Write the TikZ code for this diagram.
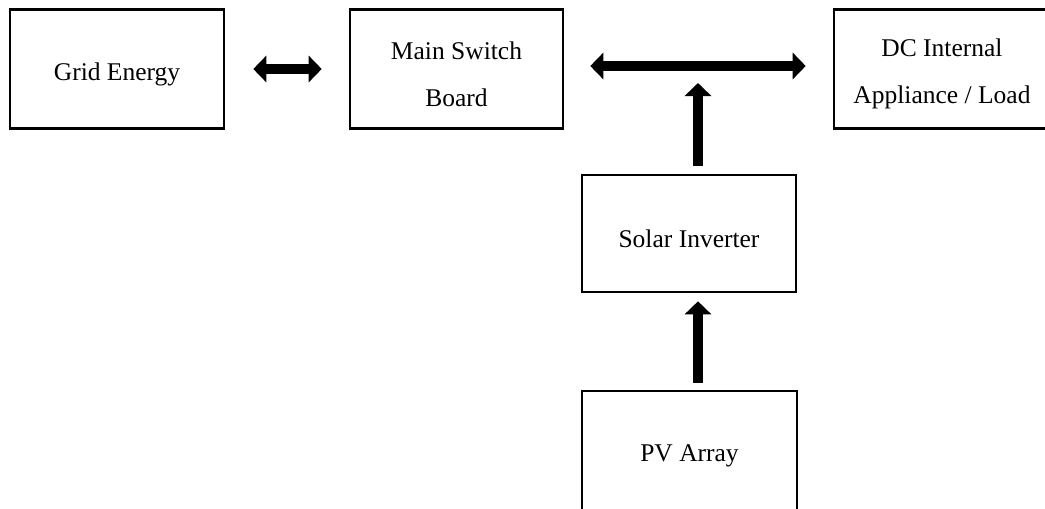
\documentclass[tikz,border=0pt]{standalone}
\usepackage{fontspec}
\setmainfont{Liberation Serif}
\usetikzlibrary{arrows.meta}
\begin{document}
\begin{tikzpicture}[x=1pt,y=-1pt,
  box/.style={draw=black, line width=2.6pt, fill=white, inner sep=0pt},
  txt/.style={align=center, inner sep=0pt, font=\fontsize{25.5}{47}\selectfont},
  bigarrow/.style={line width=10pt, -{Triangle[length=13pt,width=26pt]}},
  dblarrow/.style={line width=10pt, {Triangle[length=13pt,width=26pt]}-{Triangle[length=13pt,width=26pt]}}
]
\clip (0,0) rectangle (1045,509);
\fill[white] (0,0) rectangle (1045,509);
\node[box, minimum width=214pt, minimum height=119pt] (grid) at (117,69) {};
\node[txt] (gridt) at ([yshift=-5pt]grid.center) {Grid Energy};
\node[box, minimum width=213pt, minimum height=119pt] (main) at (456.5,69) {};
\node[txt] (maint) at ([yshift=-5pt]main.center) {Main Switch\\Board};
\node[box, minimum width=214pt, minimum height=119pt] (dc) at (941,69) {};
\node[txt] (dct) at ([xshift=1pt,yshift=-5pt]dc.center) {DC Internal\\Appliance / Load};
\node[box, minimum width=214pt, minimum height=117pt] (inv) at (689,233.5) {};
\node[txt] (invt) at ([yshift=-5pt]inv.center) {Solar Inverter};
\node[box, minimum width=215pt, minimum height=134pt] (pv) at (689.5,458) {};
\node[txt] (pvt) at (689.5,456) {PV Array};
\coordinate (j) at (698,66);
\draw[dblarrow] ([xshift=28pt]grid.east) -- ([xshift=-27pt]main.west);
\draw[dblarrow] ([xshift=26pt,yshift=3pt]main.east) -- ([xshift=-27pt,yshift=3pt]dc.west);
\draw[bigarrow, shorten <=8pt, shorten >=17pt] ([xshift=9pt]inv.north) -- (j);
\draw[bigarrow, shorten <=7pt, shorten >=8pt] ([xshift=8.5pt]pv.north) -- ([xshift=9pt]inv.south);
\end{tikzpicture}
\end{document}
